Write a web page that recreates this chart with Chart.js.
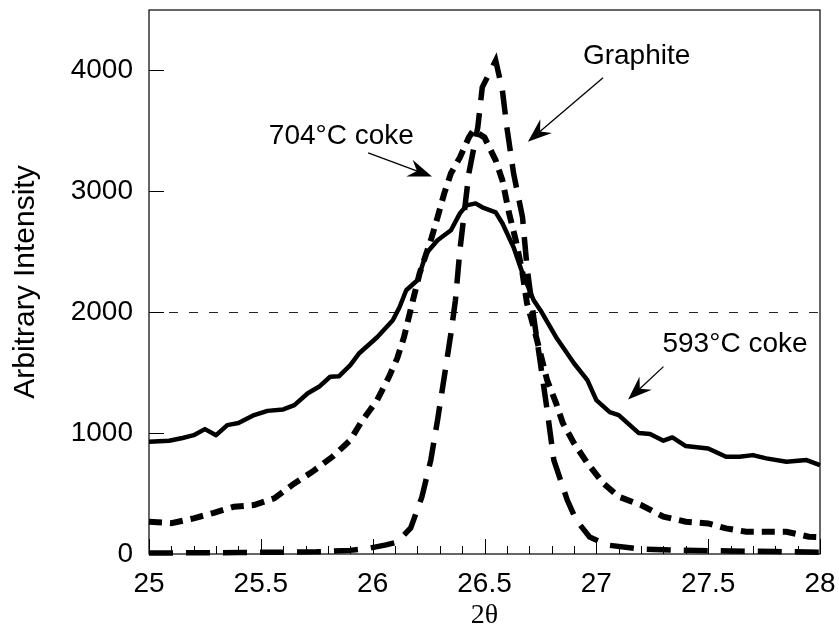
<!DOCTYPE html>
<html>
<head>
<meta charset="utf-8">
<script src="https://cdn.jsdelivr.net/npm/chart.js@4.4.1/dist/chart.umd.min.js"></script>
<style>
  body { margin: 0; background: #fff; }
</style>
</head>
<body>
<canvas id="mychart" width="839" height="632"></canvas>
<script>
// 2-theta values and intensities
const x593 = [25.00, 25.09, 25.15, 25.20, 25.25, 25.30, 25.35, 25.40, 25.47, 25.53, 25.60, 25.65, 25.71, 25.76, 25.81, 25.85, 25.90, 25.94, 26.02, 26.09, 26.12, 26.15, 26.20, 26.24, 26.29, 26.35, 26.39, 26.42, 26.46, 26.49, 26.55, 26.58, 26.63, 26.67, 26.72, 26.75, 26.82, 26.90, 26.96, 27.00, 27.06, 27.10, 27.19, 27.24, 27.30, 27.34, 27.40, 27.50, 27.58, 27.64, 27.70, 27.76, 27.85, 27.94, 28.00]
const y593 = [928, 937, 960, 983, 1033, 983, 1066, 1083, 1149, 1184, 1196, 1231, 1330, 1383, 1466, 1471, 1562, 1661, 1793, 1934, 2041, 2182, 2264, 2488, 2595, 2678, 2818, 2884, 2900, 2868, 2826, 2736, 2537, 2322, 2099, 2017, 1793, 1578, 1438, 1273, 1174, 1149, 1000, 992, 937, 964, 893, 873, 804, 804, 818, 791, 763, 777, 736]

const x704 = [25.00, 25.10, 25.20, 25.29, 25.38, 25.47, 25.56, 25.65, 25.73, 25.82, 25.90, 25.95, 26.02, 26.07, 26.11, 26.14, 26.18, 26.21, 26.26, 26.29, 26.32, 26.35, 26.39, 26.43, 26.45, 26.50, 26.55, 26.58, 26.61, 26.64, 26.67, 26.69, 26.72, 26.78, 26.82, 26.85, 26.90, 26.96, 27.03, 27.10, 27.20, 27.30, 27.40, 27.50, 27.58, 27.67, 27.79, 27.85, 27.95, 28.00]
const y704 = [267, 255, 295, 341, 391, 405, 460, 584, 680, 804, 942, 1095, 1273, 1455, 1620, 1793, 2099, 2322, 2595, 2785, 2983, 3149, 3281, 3446, 3504, 3446, 3256, 3091, 2818, 2595, 2322, 2074, 1876, 1438, 1248, 1083, 917, 752, 587, 474, 405, 309, 267, 253, 212, 184, 184, 184, 143, 140]

const xGraphite = [25.00, 25.20, 25.40, 25.60, 25.75, 25.90, 25.99, 26.06, 26.11, 26.17, 26.22, 26.26, 26.29, 26.32, 26.35, 26.37, 26.39, 26.43, 26.47, 26.49, 26.55, 26.58, 26.60, 26.63, 26.67, 26.69, 26.72, 26.75, 26.78, 26.81, 26.87, 26.91, 26.97, 27.05, 27.20, 27.40, 27.60, 27.80, 28.00]
const yGraphite = [8, 10, 12, 15, 18, 30, 50, 75, 99, 215, 471, 777, 1107, 1463, 1826, 2099, 2512, 3149, 3529, 3860, 4083, 3835, 3529, 3149, 2785, 2372, 1959, 1578, 1190, 777, 446, 281, 140, 74, 40, 30, 25, 20, 15]

const yTicks = [0, 1000, 2000, 3000, 4000]

// labels with arrows (data units): text, text anchor, arrow start, arrow tip
const notas = [
    { text: "Graphite", tx: 27.18, ty: 4055, x0: 27.03, y0: 3940, x1: 26.694, y1: 3410 },
    { text: "704°C coke", tx: 25.86, ty: 3393, x0: 25.98, y0: 3319, x1: 26.265, y1: 3122 },
    { text: "593°C coke", tx: 27.62, ty: 1674, x0: 27.30, y0: 1550, x1: 27.142, y1: 1277 }
]

const pontos = (xs, ys) => xs.map((x, i) => ({ x: x, y: ys[i] }))

const ctx = document.getElementById('mychart').getContext("2d");
const FONTE = "'Liberation Sans', Arial, sans-serif"

// frame, inward ticks, dashed 2000 line and the arrow labels
const moldura = {
    id: "moldura",
    beforeDatasetsDraw(chart) {
        const { ctx, chartArea: a, scales: { y } } = chart
        const py = Math.round(y.getPixelForValue(2000)) + 0.5
        ctx.save()
        ctx.strokeStyle = "#222"
        ctx.lineWidth = 1
        ctx.setLineDash([9, 11])
        ctx.beginPath()
        ctx.moveTo(a.left, py)
        ctx.lineTo(a.right, py)
        ctx.stroke()
        ctx.restore()
    },
    afterDraw(chart) {
        const { ctx, chartArea: a, scales: { x, y } } = chart
        ctx.save()
        ctx.strokeStyle = "#000"
        ctx.lineWidth = 1.2
        ctx.strokeRect(a.left, a.top, a.right - a.left, a.bottom - a.top)

        ctx.lineWidth = 1
        ctx.beginPath()
        for (let i = 250; i <= 280; i++) {
            const px = Math.round(x.getPixelForValue(i / 10)) + 0.5
            const len = i % 5 === 0 ? 15 : 8
            ctx.moveTo(px, a.bottom)
            ctx.lineTo(px, a.bottom - len)
        }
        yTicks.forEach(v => {
            const py = Math.round(y.getPixelForValue(v)) + 0.5
            ctx.moveTo(a.left, py)
            ctx.lineTo(a.left + 15, py)
        })
        ctx.stroke()

        // arrows
        ctx.fillStyle = "#000"
        ctx.font = "28px " + FONTE
        ctx.textAlign = "center"
        ctx.textBaseline = "alphabetic"
        notas.forEach(n => {
            ctx.fillText(n.text, x.getPixelForValue(n.tx), y.getPixelForValue(n.ty))
            const x0 = x.getPixelForValue(n.x0), y0 = y.getPixelForValue(n.y0)
            const x1 = x.getPixelForValue(n.x1), y1 = y.getPixelForValue(n.y1)
            const ang = Math.atan2(y1 - y0, x1 - x0)
            ctx.lineWidth = 1.3
            ctx.beginPath()
            ctx.moveTo(x0, y0)
            ctx.lineTo(x1 - 12 * Math.cos(ang), y1 - 12 * Math.sin(ang))
            ctx.stroke()
            ctx.save()
            ctx.translate(x1, y1)
            ctx.rotate(ang)
            ctx.beginPath()
            ctx.moveTo(0, 0)
            ctx.lineTo(-24, -9)
            ctx.lineTo(-16, 0)
            ctx.lineTo(-24, 9)
            ctx.closePath()
            ctx.fill()
            ctx.restore()
        })
        ctx.restore()
    }
}

new Chart(ctx, {
    type: 'line',
    data: {
        datasets: [{
            label: '593°C coke',
            data: pontos(x593, y593),
            borderColor: '#000',
            borderWidth: 4.5,
            borderJoinStyle: 'round',
            pointRadius: 0,
            tension: 0,
            clip: false
        }, {
            label: '704°C coke',
            data: pontos(x704, y704),
            borderColor: '#000',
            borderWidth: 6,
            borderDash: [13, 8],
            pointRadius: 0,
            tension: 0,
            clip: false
        }, {
            label: 'Graphite',
            data: pontos(xGraphite, yGraphite),
            borderColor: '#000',
            borderWidth: 5.5,
            borderDash: [24, 13],
            pointRadius: 0,
            tension: 0,
            clip: false
        }]
    },
    options: {
        responsive: false,
        animation: false,
        layout: { padding: { top: 10, right: 19, left: 0, bottom: 0 } },
        plugins: {
            legend: { display: false },
            tooltip: { enabled: false }
        },
        scales: {
            x: {
                type: 'linear',
                min: 25,
                max: 28,
                grid: { display: false, drawTicks: false },
                border: { display: false },
                ticks: {
                    stepSize: 0.5,
                    padding: 13,
                    color: '#000',
                    font: { size: 28, family: FONTE },
                    maxRotation: 0,
                    callback: (v) => String(+v.toFixed(1))
                },
                title: {
                    display: true,
                    text: '2θ',
                    color: '#000',
                    font: { size: 28, family: "'Liberation Serif', 'DejaVu Serif', serif" },
                    padding: { top: 0, bottom: 0 }
                },
                afterFit: (s) => { s.height = 78; s.paddingLeft = 0; s.paddingRight = 0 }
            },
            y: {
                min: 0,
                max: 4500,
                grid: { display: false, drawTicks: false },
                border: { display: false },
                afterBuildTicks: (s) => { s.ticks = yTicks.map(v => ({ value: v })) },
                ticks: {
                    padding: 16,
                    color: '#000',
                    font: { size: 28, family: FONTE },
                    callback: (v) => String(v)
                },
                title: {
                    display: true,
                    text: 'Arbitrary Intensity',
                    color: '#000',
                    font: { size: 30, family: FONTE },
                    padding: { top: 8, bottom: 0 }
                },
                afterFit: (s) => { s.width = 149; s.paddingTop = 0; s.paddingBottom = 0 }
            }
        }
    },
    plugins: [moldura]
});
</script>
</body>
</html>
